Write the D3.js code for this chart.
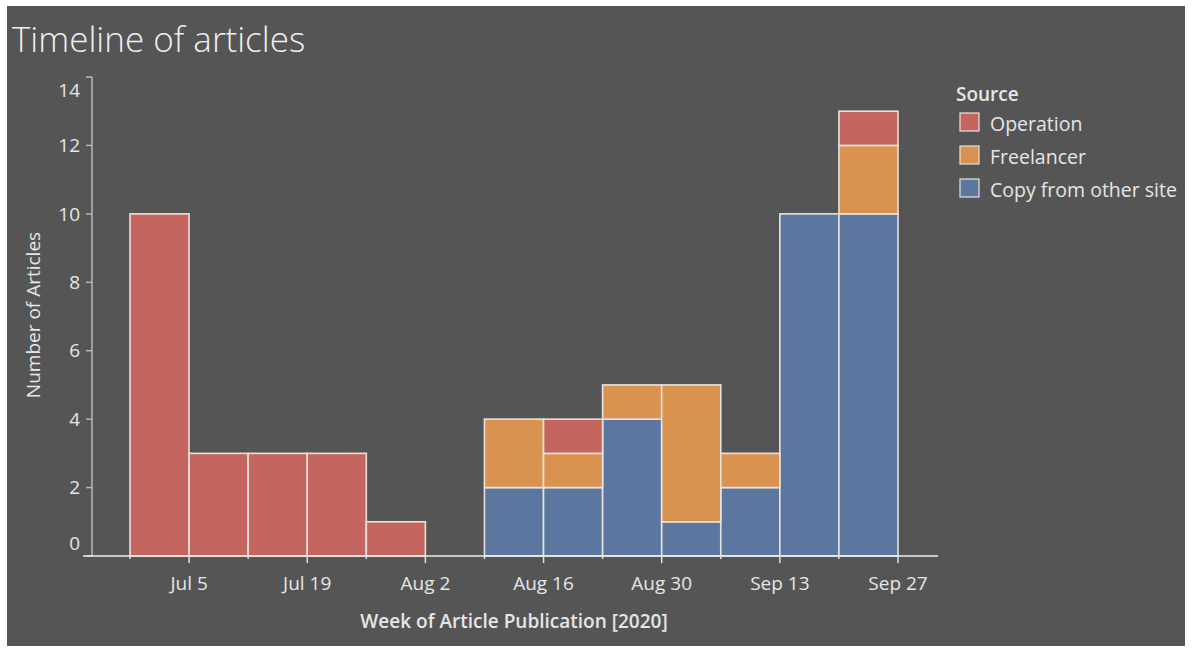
<!DOCTYPE html>
<html><head><meta charset="utf-8">
<script src="https://cdn.jsdelivr.net/npm/d3@7"></script>
<style>
html,body{margin:0;padding:0;background:#fff;}
svg{display:block;}
text{font-family:"Open Sans",sans-serif;}
</style></head>
<body>
<script>
const weeks = ["2020-06-28","2020-07-05","2020-07-12","2020-07-19","2020-07-26","2020-08-02","2020-08-09","2020-08-16","2020-08-23","2020-08-30","2020-09-06","2020-09-13","2020-09-20"];
const operation = [10,3,3,3,1,0,0,1,0,0,0,0,1];
const freelancer = [0,0,0,0,0,0,2,1,1,4,1,0,2];
const copySite = [0,0,0,0,0,0,2,2,4,1,2,10,10];
const seriesNames = ["Copy from other site","Freelancer","Operation"];
const legendOrder = ["Operation","Freelancer","Copy from other site"];
const colors = {"Operation":"#c4665f","Freelancer":"#d9924f","Copy from other site":"#5b77a0"};
const yTicks = [0,2,4,6,8,10,12,14];
const xTickLabels = ["Jul 5","Jul 19","Aug 2","Aug 16","Aug 30","Sep 13","Sep 27"];

const W=1200,H=658;
const parse=d3.utcParse("%Y-%m-%d");
const svg=d3.select("body").append("svg").attr("width",W).attr("height",H);
svg.append("rect").attr("x",7).attr("y",6).attr("width",1178).attr("height",640).attr("fill","#555555");

const txt="#e6e6e6";
const x=d3.scaleUtc().domain([parse("2020-06-28"),parse("2020-09-27")]).range([130,898]);
const y=d3.scaleLinear().domain([0,14]).range([556,77]);

const table=weeks.map((w,i)=>({date:parse(w),"Operation":operation[i],"Freelancer":freelancer[i],"Copy from other site":copySite[i]}));
const stack=d3.stack().keys(seriesNames)(table);

const g=svg.append("g");
stack.forEach(layer=>{
  g.selectAll(null).data(layer.filter(d=>d[1]>d[0])).enter().append("rect")
   .attr("x",d=>x(d.data.date))
   .attr("width",d=>x(d3.utcDay.offset(d.data.date,7))-x(d.data.date))
   .attr("y",d=>y(d[1]))
   .attr("height",d=>y(d[0])-y(d[1]))
   .attr("fill",colors[layer.key])
   .attr("stroke","#e8e2dc").attr("stroke-width",1.6);
});

// y axis
svg.append("line").attr("x1",92).attr("x2",92).attr("y1",y(14)).attr("y2",y(0)).attr("stroke","#b8b8b8").attr("stroke-width",1.5);
const yg=svg.append("g");
yTicks.forEach(t=>{
  yg.append("line").attr("x1",86).attr("x2",92).attr("y1",y(t)).attr("y2",y(t)).attr("stroke","#b8b8b8").attr("stroke-width",1.5);
  let yy=y(t); if(t===0) yy-=13; if(t===14) yy+=13;
  yg.append("text").attr("x",80).attr("y",yy).attr("dy","0.35em").attr("text-anchor","end")
    .attr("fill",txt).attr("font-size",19).text(t);
});
// x axis
svg.append("line").attr("x1",83).attr("x2",938).attr("y1",556).attr("y2",556).attr("stroke","#eeeeee").attr("stroke-width",1.5);
const xg=svg.append("g");
weeks.concat(["2020-09-27"]).forEach((w,i)=>{
  const d=parse(w), px=x(d), major=(i%2===1);
  xg.append("line").attr("x1",px).attr("x2",px).attr("y1",556).attr("y2",major?563:559).attr("stroke","#e0e0e0").attr("stroke-width",1.5);
});
xTickLabels.forEach((lab,i)=>{
  const d=parse(weeks[0]); const px=x(d3.utcDay.offset(d,7+14*i));
  xg.append("text").attr("x",px).attr("y",590).attr("text-anchor","middle").attr("fill",txt).attr("font-size",19).text(lab);
});

// titles
svg.append("text").attr("x",12).attr("y",52).attr("fill","#f0f0f0").attr("font-size",35).attr("font-weight",300).text("Timeline of articles");
svg.append("text").attr("transform","translate(40,315) rotate(-90)").attr("text-anchor","middle").attr("fill",txt).attr("font-size",19).text("Number of Articles");
svg.append("text").attr("x",514).attr("y",628).attr("text-anchor","middle").attr("fill",txt).attr("font-size",19).attr("font-weight",600).text("Week of Article Publication [2020]");

// legend
const lg=svg.append("g");
lg.append("text").attr("x",956).attr("y",101).attr("fill",txt).attr("font-size",19).attr("font-weight",600).text("Source");
legendOrder.forEach((k,i)=>{
  const yy=113+i*33;
  lg.append("rect").attr("x",960).attr("y",yy).attr("width",19).attr("height",18).attr("fill",colors[k]).attr("stroke","#e8e2dc").attr("stroke-width",1.2);
  lg.append("text").attr("x",990).attr("y",yy+11).attr("dy","0.35em").attr("fill",txt).attr("font-size",19.5).text(k);
});
</script>
</body></html>
